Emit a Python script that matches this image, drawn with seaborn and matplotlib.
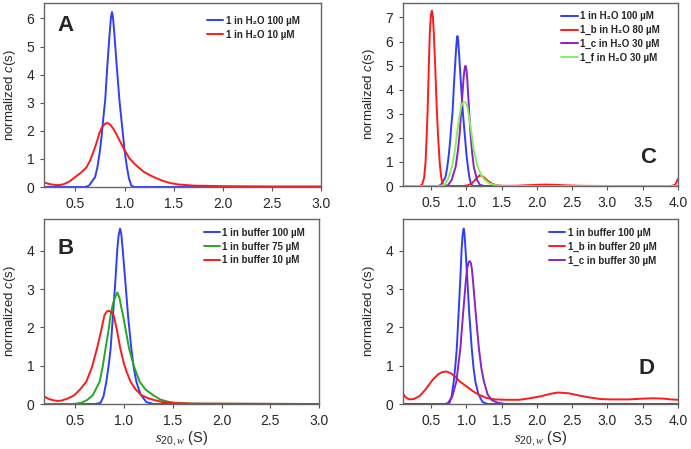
import numpy as np
import seaborn as sns
import matplotlib.pyplot as plt

sns.set_style("ticks")
plt.rcParams["font.family"] = ["Liberation Sans", "DejaVu Sans"]
plt.rcParams["mathtext.fontset"] = "custom"
plt.rcParams["mathtext.rm"] = "Liberation Sans"
plt.rcParams["mathtext.it"] = "Liberation Serif:italic"
plt.rcParams["mathtext.sf"] = "Liberation Sans:italic"

# ---- data: s20,w (S) vs normalized c(s) ----
# 1 in H2O 100 uM (panels A and C)
h2o_100_x = [0.1, 0.60, 0.638, 0.70, 0.724, 0.75, 0.769, 0.785, 0.803, 0.824, 0.848, 0.862,
             0.872, 0.882, 0.896, 0.921, 0.948, 0.965, 0.983, 1.00, 1.024, 1.045, 1.069, 1.10, 4.0]
h2o_100_y = [0, 0, 0.05, 0.35, 0.71, 1.3, 1.9, 2.5, 3.09, 4.28, 5.46, 6.05,
             6.23, 6.05, 5.46, 4.28, 3.09, 2.5, 1.9, 1.3, 0.71, 0.3, 0.05, 0, 0]

# 1 in H2O 10 uM (panel A)
h2o_10_x = [0.18, 0.22, 0.26, 0.30, 0.34, 0.38, 0.44, 0.50, 0.56, 0.614, 0.65, 0.689, 0.72,
            0.741, 0.77, 0.80, 0.828, 0.86, 0.89, 0.914, 0.96, 1.0, 1.05, 1.10, 1.138, 1.20,
            1.293, 1.38, 1.465, 1.55, 1.7, 2.0, 2.5, 3.0]
h2o_10_y = [0.16, 0.12, 0.09, 0.07, 0.07, 0.1, 0.2, 0.36, 0.52, 0.71, 0.95, 1.31, 1.63,
            1.9, 2.12, 2.25, 2.28, 2.2, 2.05, 1.9, 1.58, 1.31, 1.02, 0.83, 0.71, 0.53,
            0.36, 0.23, 0.14, 0.09, 0.05, 0.03, 0.02, 0.02]

# 1 in buffer 100 uM (panels B and D)
buf_100_x = [0.1, 0.70, 0.76, 0.79, 0.819, 0.845, 0.863, 0.887, 0.911, 0.932, 0.945, 0.96,
             0.972, 0.986, 1.014, 1.041, 1.075, 1.10, 1.127, 1.17, 1.23, 1.30, 4.0]
buf_100_y = [0, 0, 0.03, 0.2, 0.58, 1.05, 1.45, 2.32, 3.19, 4.06, 4.4, 4.58,
             4.45, 4.06, 3.19, 2.32, 1.45, 0.95, 0.58, 0.25, 0.05, 0, 0]

# 1 in buffer 75 uM (panel B)
buf_75_x = [0.18, 0.48, 0.56, 0.62, 0.68, 0.75, 0.78, 0.811, 0.84, 0.863, 0.885, 0.904, 0.932,
            0.955, 0.97, 0.99, 1.02, 1.052, 1.10, 1.161, 1.22, 1.30, 1.37, 1.45, 1.55, 1.7, 3.0]
buf_75_y = [0, 0, 0.03, 0.1, 0.23, 0.58, 0.95, 1.45, 1.9, 2.32, 2.6, 2.76, 2.91,
            2.76, 2.55, 2.32, 1.9, 1.45, 1.0, 0.58, 0.38, 0.23, 0.12, 0.06, 0.02, 0.01, 0]

# 1 in buffer 10 uM (panel B)
buf_10_x = [0.18, 0.22, 0.27, 0.32, 0.36, 0.42, 0.49, 0.55, 0.613, 0.67, 0.723, 0.76, 0.80,
            0.825, 0.846, 0.87, 0.894, 0.93, 0.962, 1.0, 1.03, 1.068, 1.12, 1.178, 1.25,
            1.315, 1.4, 1.5, 1.7, 3.0]
buf_10_y = [0.2, 0.14, 0.1, 0.08, 0.09, 0.14, 0.23, 0.38, 0.58, 0.95, 1.45, 1.85, 2.32,
            2.42, 2.43, 2.4, 2.32, 1.9, 1.45, 1.05, 0.82, 0.58, 0.38, 0.23, 0.15,
            0.1, 0.05, 0.03, 0.01, 0]

# 1_b in H2O 80 uM (panel C)
b_h2o_x = [0.1, 0.33, 0.37, 0.40, 0.42, 0.437, 0.45, 0.466, 0.48, 0.495, 0.51, 0.525, 0.537,
           0.557, 0.575, 0.595, 0.62, 0.64, 0.66, 0.70, 0.95, 1.02, 1.08, 1.13, 1.19, 1.24,
           1.30, 1.36, 1.43, 1.5, 1.7, 1.85, 2.0, 2.12, 2.25, 2.4, 2.6, 3.0, 3.9, 3.96, 4.0]
b_h2o_y = [0, 0, 0.05, 0.35, 1.0, 2.19, 3.2, 4.95, 6.33, 7.1, 7.28, 7.0, 6.33,
           4.95, 3.5, 2.19, 1.0, 0.4, 0.1, 0, 0, 0.03, 0.12, 0.28, 0.45, 0.38,
           0.22, 0.1, 0.03, 0.01, 0.01, 0.03, 0.05, 0.06, 0.05, 0.03, 0.01, 0, 0, 0.05, 0.3]

# 1_c in H2O 30 uM (panel C)
c_h2o_x = [0.1, 0.70, 0.737, 0.79, 0.847, 0.88, 0.904, 0.937, 0.961, 0.975, 0.986, 0.997,
           1.009, 1.029, 1.057, 1.08, 1.104, 1.15, 1.19, 1.25, 4.0]
c_h2o_y = [0, 0, 0.03, 0.25, 0.8, 1.5, 2.19, 3.57, 4.54, 4.9, 4.99, 4.9,
           4.54, 3.57, 2.19, 1.4, 0.8, 0.25, 0.05, 0, 0]

# 1_f in H2O 30 uM (panel C)
f_h2o_x = [0.1, 0.62, 0.69, 0.74, 0.795, 0.837, 0.866, 0.90, 0.923, 0.945, 0.966, 0.99,
           1.014, 1.037, 1.071, 1.104, 1.157, 1.21, 1.261, 1.33, 1.43, 1.55, 4.0]
f_h2o_y = [0, 0, 0.05, 0.3, 0.8, 1.49, 2.19, 2.88, 3.29, 3.45, 3.5, 3.45,
           3.29, 2.88, 2.19, 1.49, 0.8, 0.45, 0.25, 0.1, 0.02, 0, 0]

# 1_b in buffer 20 uM (panel D)
b_buf_x = [0.1, 0.14, 0.19, 0.25, 0.33, 0.42, 0.52, 0.6, 0.65, 0.714, 0.78, 0.85, 0.904,
           1.0, 1.094, 1.18, 1.28, 1.4, 1.57, 1.75, 1.9, 2.05, 2.2, 2.3, 2.45, 2.6, 2.75,
           2.9, 3.05, 3.3, 3.5, 3.65, 3.8, 3.9, 4.0]
b_buf_y = [0.27, 0.17, 0.12, 0.13, 0.2, 0.38, 0.63, 0.78, 0.83, 0.85, 0.8, 0.7, 0.59,
           0.46, 0.33, 0.24, 0.16, 0.12, 0.11, 0.11, 0.15, 0.2, 0.27, 0.3, 0.28, 0.22, 0.17,
           0.13, 0.12, 0.12, 0.14, 0.15, 0.14, 0.12, 0.11]

# 1_c in buffer 30 uM (panel D)
c_buf_x = [0.1, 0.70, 0.737, 0.80, 0.857, 0.914, 0.951, 0.99, 1.009, 1.03, 1.047, 1.062,
           1.076, 1.094, 1.133, 1.176, 1.21, 1.247, 1.30, 1.36, 1.45, 1.55, 4.0]
c_buf_y = [0, 0, 0.02, 0.2, 0.59, 1.46, 2.33, 3.19, 3.54, 3.7, 3.73, 3.68,
           3.54, 3.19, 2.33, 1.46, 0.95, 0.59, 0.25, 0.1, 0.03, 0, 0]

BLUE = "#2f3dfc"
RED = "#ff1a1a"
GREEN = "#22a822"
LGREEN = "#86ee5c"
PURPLE = "#8b22c8"

fig = plt.figure(figsize=(6.91, 4.49), dpi=100)
axA = fig.add_axes([0.0637, 0.5835, 0.4008, 0.4098])
axC = fig.add_axes([0.5832, 0.5857, 0.3980, 0.4076])
axB = fig.add_axes([0.0637, 0.1002, 0.3980, 0.4120])
axD = fig.add_axes([0.5832, 0.1002, 0.3980, 0.4120])

panels = [
    (axA, "A", (0.05, 0.935), (0.18, 3.0), 6.55, range(0, 7), (0.588, 0.93),
     [(h2o_100_x, h2o_100_y, BLUE, "1 in H\u2082O 100 \u00b5M"),
      (h2o_10_x, h2o_10_y, RED, "1 in H\u2082O 10 \u00b5M")]),
    (axC, "C", (0.862, 0.215), (0.1, 4.0), 7.6, range(0, 8), (0.575, 0.955),
     [(h2o_100_x, h2o_100_y, BLUE, "1 in H\u2082O 100 \u00b5M"),
      (b_h2o_x, b_h2o_y, RED, "1_b in H\u2082O 80 \u00b5M"),
      (c_h2o_x, c_h2o_y, PURPLE, "1_c in H\u2082O 30 \u00b5M"),
      (f_h2o_x, f_h2o_y, LGREEN, "1_f in H\u2082O 30 \u00b5M")]),
    (axB, "B", (0.05, 0.897), (0.18, 3.0), 4.83, range(0, 5), (0.58, 0.952),
     [(buf_100_x, buf_100_y, BLUE, "1 in buffer 100 \u00b5M"),
      (buf_75_x, buf_75_y, GREEN, "1 in buffer 75 \u00b5M"),
      (buf_10_x, buf_10_y, RED, "1 in buffer 10 \u00b5M")]),
    (axD, "D", (0.855, 0.249), (0.1, 4.0), 4.83, range(0, 5), (0.53, 0.952),
     [(buf_100_x, buf_100_y, BLUE, "1 in buffer 100 \u00b5M"),
      (b_buf_x, b_buf_y, RED, "1_b in buffer 20 \u00b5M"),
      (c_buf_x, c_buf_y, PURPLE, "1_c in buffer 30 \u00b5M")]),
]

for ax, letter, lpos, xlim, ytop, yt, legpos, curves in panels:
    for xs, ys, col, lab in curves:
        sns.lineplot(x=xs, y=ys, color=col, lw=1.4, label=lab, ax=ax, estimator=None)
    ax.set_xlim(*xlim)
    ax.set_ylim(0, ytop)
    xt = np.arange(0.5, xlim[1] + 0.01, 0.5)
    ax.set_xticks(xt)
    ax.set_xticklabels([f"{v:.1f}" for v in xt])
    ax.set_yticks(list(yt))
    ax.tick_params(direction="out", length=3, width=0.8, color="#555555",
                   labelsize=10, pad=4)
    for sp in ax.spines.values():
        sp.set_visible(True)
        sp.set_color("#666666")
        sp.set_linewidth(1.0)
    ax.set_ylabel(r"normalized $\mathsf{c}$(s)", fontsize=9.5, labelpad=6)
    ax.set_xlabel("")
    ax.text(lpos[0], lpos[1], letter, transform=ax.transAxes, ha="left", va="top",
            fontsize=16, fontweight="bold")
    ax.legend(loc="upper left", bbox_to_anchor=legpos, frameon=False,
              prop={"size": 7, "weight": "bold"}, handlelength=1.7,
              handletextpad=0.25, labelspacing=0.38, borderpad=0, borderaxespad=0)

for ax in (axB, axD):
    ax.set_xlabel(r"$s_{\mathit{20,w}}$ (S)", fontsize=10.5, labelpad=1)

fig.savefig("out.png", dpi=100)
